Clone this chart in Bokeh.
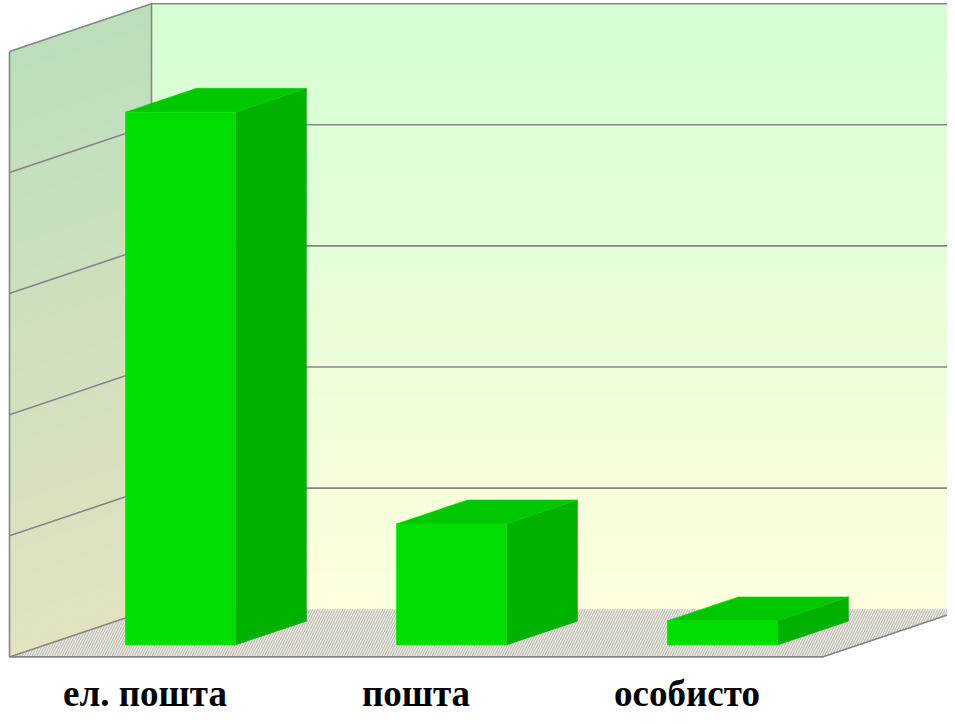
from bokeh.plotting import figure
from bokeh.models import Range1d
from bokeh.core.properties import value
from bokeh.embed import file_html
from bokeh.resources import INLINE

# ---- data ----
categories = ["ел. пошта", "пошта", "особисто"]
values = [44, 10, 2]
grid_ticks = [10, 20, 30, 40]
value_max = 50

# ---- layout (pixel-like data space, y up) ----
W, H = 947, 716
FRONT_X0 = 9
SLOT = 271
FLOOR_FRONT_PY = 656.4
DEPTH_DX = 142
DEPTH_DY = 47.7
PX_PER_UNIT = 12.11
BAR_W = 110
BAR_D0, BAR_D1 = 0.25, 0.75
RIGHT_EDGE = 980
LABEL_MIDDLE_PY = 693


def proj(xf, v, d):
    px = xf + d * DEPTH_DX
    py = FLOOR_FRONT_PY - d * DEPTH_DY - v * PX_PER_UNIT
    return px, H - py


def lerp(c1, c2, t):
    return "#%02x%02x%02x" % tuple(int(round(a + (b - a) * t)) for a, b in zip(c1, c2))


p = figure(width=W, height=H, output_backend="svg", toolbar_location=None,
           x_range=Range1d(0, W), y_range=Range1d(0, H), min_border=0)
p.axis.visible = False
p.grid.visible = False
p.outline_line_color = None
p.background_fill_color = "white"
p.border_fill_color = "white"

n_front = len(categories)
floor_right = FRONT_X0 + n_front * SLOT

# back wall gradient
N = 80
back_top, back_bot = (212, 254, 212), (254, 254, 220)
xs, ys, cs = [], [], []
for k in range(N):
    v0 = value_max * k / N
    v1 = value_max * (k + 1) / N
    xa, ya = proj(FRONT_X0, v0, 1)
    _, yb = proj(FRONT_X0, v1, 1)
    xs.append([xa, RIGHT_EDGE, RIGHT_EDGE, xa])
    ys.append([ya, ya, yb + 0.5, yb + 0.5])
    cs.append(lerp(back_bot, back_top, (k + 0.5) / N))
p.patches(xs, ys, fill_color=cs, line_color=None)

# left wall gradient
left_top, left_bot = (188, 222, 188), (226, 226, 192)
xs, ys, cs = [], [], []
for k in range(N):
    v0 = value_max * k / N
    v1 = value_max * (k + 1) / N
    a = proj(FRONT_X0, v0, 0)
    b = proj(FRONT_X0, v0, 1)
    c = proj(FRONT_X0, v1, 1)
    d = proj(FRONT_X0, v1, 0)
    xs.append([a[0], b[0], c[0], d[0]])
    ys.append([a[1], b[1], c[1] + 0.5, d[1] + 0.5])
    cs.append(lerp(left_bot, left_top, (k + 0.5) / N))
p.patches(xs, ys, fill_color=cs, line_color=None)

# floor
f = [proj(FRONT_X0, 0, 0), proj(floor_right, 0, 0), proj(floor_right, 0, 1),
     proj(RIGHT_EDGE, 0, 1), proj(FRONT_X0, 0, 1)]
p.patch([q[0] for q in f], [q[1] for q in f], fill_color="#e6e6de",
        hatch_pattern="/", hatch_color="#b0b0a8", hatch_scale=5, hatch_weight=0.8,
        line_color=None)

# grid lines + frame
gx, gy = [], []
for t in grid_ticks + [value_max]:
    a = proj(FRONT_X0, t, 0)
    b = proj(FRONT_X0, t, 1)
    gx.append([a[0], b[0], RIGHT_EDGE])
    gy.append([a[1], b[1], b[1]])
a0, a1 = proj(FRONT_X0, 0, 0), proj(FRONT_X0, value_max, 0)
b0, b1 = proj(FRONT_X0, 0, 1), proj(FRONT_X0, value_max, 1)
gx += [[a0[0], a1[0]], [b0[0], b1[0]], [a0[0], b0[0]]]
gy += [[a0[1], a1[1]], [b0[1], b1[1]], [a0[1], b0[1]]]
fr0, fr1 = proj(floor_right, 0, 0), proj(floor_right, 0, 1)
gx += [[a0[0], fr0[0], fr1[0]]]
gy += [[a0[1], fr0[1], fr1[1]]]
p.multi_line(gx, gy, line_color="#868686", line_width=1.6)

# bars
fx, fy, tx, ty, sx, sy = [], [], [], [], [], []
for i, v in enumerate(values):
    left = FRONT_X0 + i * SLOT + (SLOT - BAR_W) / 2
    right = left + BAR_W
    p1 = proj(left, 0, BAR_D0); p2 = proj(right, 0, BAR_D0)
    p3 = proj(right, v, BAR_D0); p4 = proj(left, v, BAR_D0)
    fx.append([p1[0], p2[0], p3[0], p4[0]]); fy.append([p1[1], p2[1], p3[1], p4[1]])
    q3 = proj(right, v, BAR_D1); q4 = proj(left, v, BAR_D1)
    tx.append([p4[0], p3[0], q3[0], q4[0]]); ty.append([p4[1], p3[1], q3[1], q4[1]])
    q2 = proj(right, 0, BAR_D1)
    sx.append([p2[0], q2[0], q3[0], p3[0]]); sy.append([p2[1], q2[1], q3[1], p3[1]])
p.patches(sx, sy, fill_color="#00b200", line_color="#00b200", line_width=0.5)
p.patches(tx, ty, fill_color="#00c800", line_color="#00c800", line_width=0.5)
p.patches(fx, fy, fill_color="#00dd00", line_color="#00dd00", line_width=0.5)

# category labels
lx = [FRONT_X0 + (i + 0.5) * SLOT for i in range(len(categories))]
ly = [H - LABEL_MIDDLE_PY] * len(categories)
p.text(x=lx, y=ly, text=categories, text_font=value("Liberation Serif"),
       text_font_style="bold", text_font_size="37px", text_color="black",
       text_align="center", text_baseline="middle")

open("out.html", "w").write(file_html(p, INLINE))
